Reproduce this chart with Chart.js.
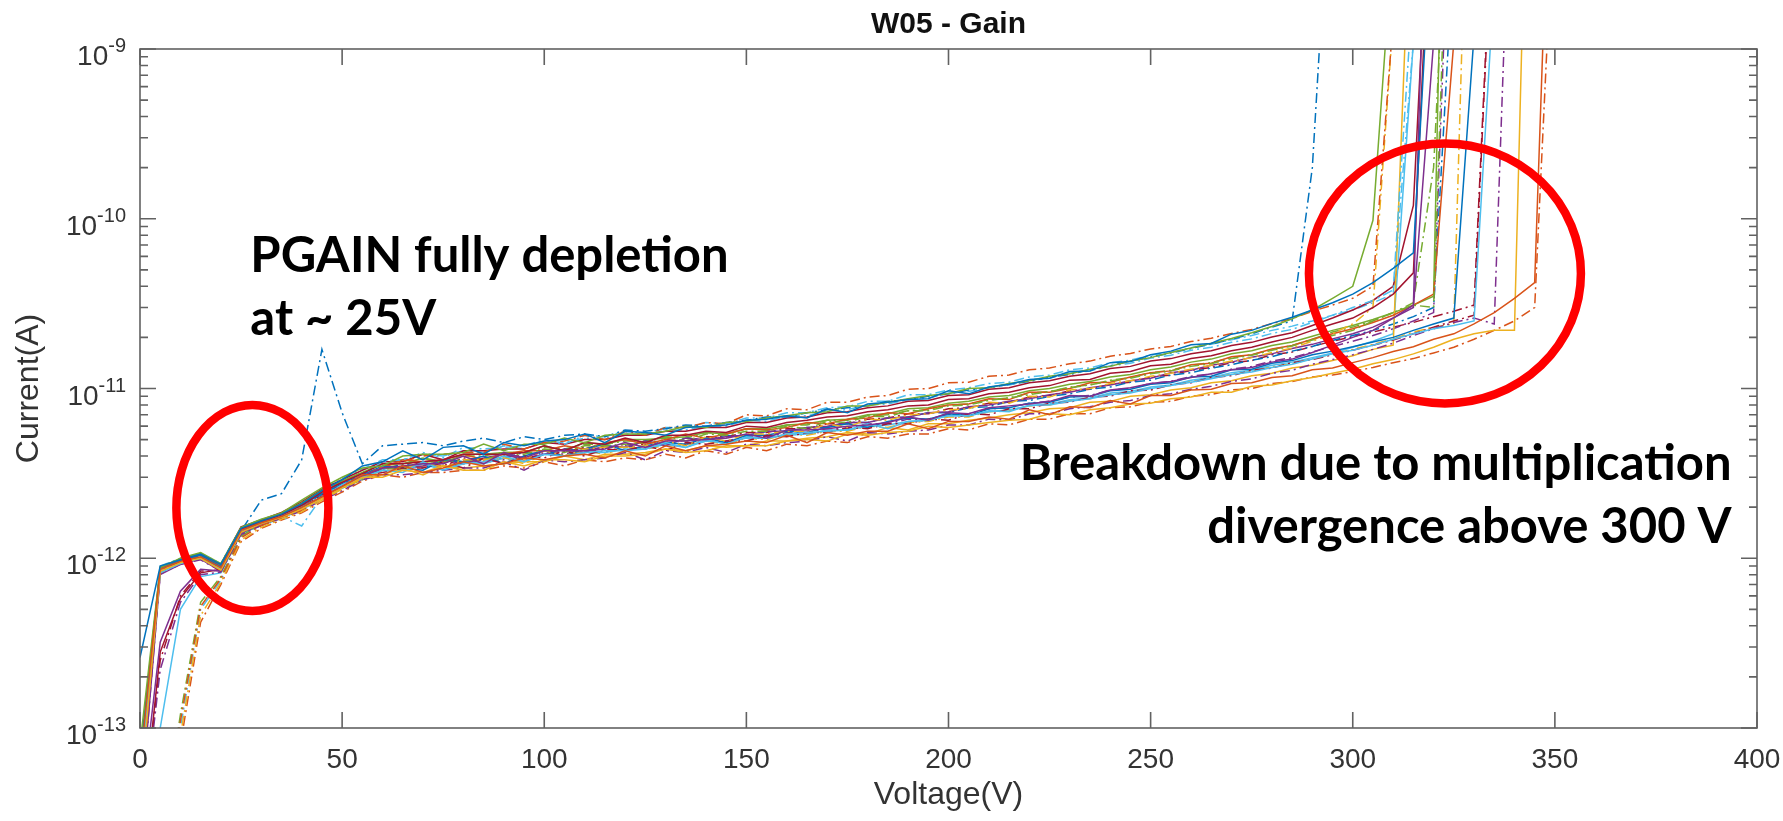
<!DOCTYPE html>
<html>
<head>
<meta charset="utf-8">
<title>W05 - Gain</title>
<script src="https://cdn.jsdelivr.net/npm/chart.js@4.4.1/dist/chart.umd.min.js"></script>
<style>
  html, body { margin: 0; padding: 0; background: #fff; }
  canvas { display: block; }
</style>
</head>
<body>
<canvas id="chart" width="1783" height="821" style="width:1783px;height:821px"></canvas>
<script>
// bias points (V) shared by every pad
const volts = [
  0, 5, 10, 15, 20, 25, 30, 35, 40, 45,
  50, 55, 60, 65, 70, 75, 80, 85, 90, 95,
  100, 105, 110, 115, 120, 125, 130, 135, 140, 145,
  150, 155, 160, 165, 170, 175, 180, 185, 190, 195,
  200, 205, 210, 215, 220, 225, 230, 235, 240, 245,
  250, 255, 260, 265, 270, 275, 280, 285, 290, 295,
  300, 305, 310, 315, 320, 325, 330, 335, 340, 345,
  350
];
const voltTicks = [0, 50, 100, 150, 200, 250, 300, 350, 400];
const currentDecades = [-13, -12, -11, -10, -9];

// leakage current of each pad, in pA
const pad01 = [
  0.26, 0.9, 0.98, 1.06, 0.92, 1.5, 1.66, 1.82, 2.1, 2.5,
  2.9, 3.5, 3.7, 4.3, 3.8, 4.5, 4.6, 4.1, 4.8, 4.6,
  4.9, 5.0, 5.4, 4.8, 5.6, 5.5, 5.3, 5.9, 6.0, 6.1,
  6.5, 6.6, 6.9, 6.7, 7.6, 7.2, 8.1, 8.3, 8.6, 8.7,
  9.7, 9.3, 10.2, 10.6, 11.3, 11.5, 12.6, 12.7, 14.2, 14.4,
  15.8, 16.6, 18.1, 18.4, 20.9, 22.0, 24.2, 26.3, 29, 32,
  36, 42, 51, 63, 9000
];
const pad02 = [
  0.06, 0.86, 0.96, 1.02, 0.88, 1.46, 1.62, 1.76, 2.0, 2.3,
  2.65, 3.1, 3.1, 3.5, 3.2, 3.4, 3.7, 3.5, 3.6, 3.9,
  3.8, 4.0, 4.1, 3.9, 4.3, 4.0, 4.6, 4.3, 4.6, 4.7,
  4.9, 4.8, 5.3, 4.8, 5.5, 5.3, 5.6, 5.6, 6.2, 5.8,
  6.4, 6.4, 6.8, 6.6, 7.5, 7.0, 7.8, 7.7, 8.5, 8.1,
  9.1, 9.1, 9.8, 9.9, 10.7, 10.8, 11.6, 11.9, 12.9, 13.2,
  14.2, 15.2, 16.5, 17.6, 19.5, 21, 24, 28, 34, 42,
  120000
];
const pad03 = [
  0.04, 0.84, 0.94, 1.0, 0.85, 1.42, 1.6, 1.74, 1.95, 2.25,
  2.6, 3.0, 3.0, 3.3, 3.2, 3.5, 3.3, 3.3, 3.7, 3.5,
  3.8, 3.8, 3.7, 4.0, 4.0, 4.1, 4.4, 4.2, 4.3, 4.6,
  4.6, 4.6, 4.9, 5.0, 4.9, 5.4, 5.3, 5.5, 5.6, 6.0,
  5.9, 6.1, 6.3, 6.5, 6.6, 7.1, 7.0, 7.5, 7.7, 8.1,
  8.2, 8.7, 8.9, 9.5, 9.5, 10.3, 10.5, 11.1, 11.6, 12.3,
  13.0, 14.0, 14.8, 16.0, 17.5, 19.5, 21, 22, 22, 1000000
];
const pad04 = [
  0.03, 0.32, 0.64, 0.86, 0.84, 1.42, 1.6, 1.76, 1.96, 2.3,
  2.65, 3.05, 3.4, 3.5, 3.6, 3.6, 4.0, 3.6, 4.2, 3.9,
  4.3, 4.3, 4.3, 4.4, 4.8, 4.5, 4.9, 4.9, 5.0, 5.1,
  5.4, 5.1, 5.7, 5.7, 5.8, 6.0, 6.1, 6.3, 6.8, 6.5,
  7.2, 7.1, 7.7, 7.9, 8.1, 8.4, 9.1, 9.0, 9.8, 10.1,
  10.7, 11.0, 11.6, 12.2, 12.9, 13.3, 14.3, 14.9, 16.3, 18,
  20, 22, 26, 31, 300000
];
const pad05 = [
  0.08, 0.88, 1.0, 1.08, 0.93, 1.52, 1.7, 1.85, 2.2, 2.6,
  3.0, 3.4, 3.5, 4.0, 4.1, 4.1, 4.2, 4.7, 4.3, 4.7,
  4.7, 5.1, 4.8, 5.3, 5.4, 5.4, 5.6, 6.0, 5.9, 6.3,
  6.4, 6.7, 6.9, 7.2, 7.3, 7.9, 7.9, 8.3, 8.7, 9.1,
  9.3, 10.0, 10.1, 10.7, 11.1, 11.8, 12.2, 13.0, 13.5, 14.5,
  15.2, 16.3, 17.3, 18.5, 19.7, 21.3, 23.2, 25.7, 29, 34,
  40, 98, 4700
];
const pad06 = [
  0.05, 0.82, 0.93, 1.0, 0.86, 1.44, 1.6, 1.76, 2.0, 2.3,
  2.7, 3.0, 3.3, 3.2, 3.7, 3.3, 3.6, 3.7, 4.0, 3.7,
  4.1, 4.0, 4.2, 4.3, 4.3, 4.4, 4.8, 4.5, 5.0, 4.7,
  5.2, 5.1, 5.4, 5.5, 5.6, 5.7, 6.2, 5.8, 6.4, 6.5,
  6.9, 6.9, 7.4, 7.3, 8.0, 8.0, 8.4, 8.7, 9.2, 9.4,
  10.0, 10.4, 10.9, 11.4, 12.1, 12.5, 13.3, 13.9, 14.9, 16.0,
  16.8, 18.0, 19.5, 21, 22.5, 23.5, 25, 2500
];
const pad07 = [
  0.02, 0.28, 0.58, 0.82, 0.86, 1.48, 1.66, 1.8, 2.05, 2.45,
  2.8, 3.15, 3.6, 3.6, 3.7, 3.8, 4.1, 4.1, 4.1, 4.2,
  4.6, 4.3, 4.8, 4.7, 5.1, 4.8, 5.3, 5.3, 5.6, 5.5,
  6.0, 5.9, 6.3, 6.5, 6.8, 6.9, 7.3, 7.5, 7.9, 8.0,
  8.6, 8.7, 9.3, 9.5, 10.1, 10.4, 11.2, 11.3, 12.3, 12.6,
  13.6, 13.9, 15.0, 15.6, 16.7, 17.5, 18.8, 20, 22, 24,
  26, 30, 36, 48, 20000
];
const pad08 = [
  0.05, 0.84, 0.96, 1.02, 0.88, 1.45, 2.2, 2.4, 3.8, 17,
  7.2, 3.6, 4.6, 4.7, 4.8, 4.6, 4.9, 5.1, 4.8, 5.2,
  5.0, 5.3, 5.4, 5.2, 5.7, 5.6, 5.8, 6.1, 6.0, 6.3,
  6.5, 6.8, 6.8, 7.2, 7.5, 7.7, 7.9, 8.4, 8.6, 9.0,
  9.3, 9.8, 10.1, 10.6, 11.0, 11.7, 12.1, 12.9, 13.6, 14.5,
  15.3, 16.2, 17.2, 18.3, 19.5, 21.0, 23, 25, 200, 20000
];
const pad09 = [
  0.01, 0.02, 0.11, 0.52, 0.76, 1.32, 1.56, 1.74, 1.92, 2.3,
  2.65, 3.0, 3.5, 3.7, 4.0, 4.1, 4.2, 4.2, 4.7, 4.4,
  4.8, 4.9, 5.3, 5.0, 5.6, 5.3, 5.9, 5.9, 6.3, 6.2,
  7.0, 6.9, 7.6, 7.5, 8.3, 8.3, 8.9, 9.1, 9.9, 10.0,
  10.8, 10.9, 11.8, 12.0, 12.9, 13.2, 14.0, 14.5, 15.5, 16.1,
  17.1, 17.7, 18.9, 19.8, 21.1, 22.3, 24.1, 25.8, 28.5, 31,
  34, 40, 1500
];
const pad10 = [
  0.01, 0.015, 0.09, 0.46, 0.72, 1.28, 1.52, 1.7, 1.88, 2.2,
  2.55, 2.95, 3.3, 3.3, 3.7, 3.4, 3.8, 3.8, 3.9, 3.8,
  4.3, 4.0, 4.4, 4.5, 4.5, 4.6, 4.9, 4.6, 5.2, 4.9,
  5.4, 5.4, 5.6, 5.6, 6.2, 5.9, 6.6, 6.5, 7.0, 7.1,
  7.5, 7.6, 8.3, 8.2, 9.0, 8.9, 9.8, 10.0, 10.7, 11.1,
  11.8, 12.3, 13.0, 13.7, 14.5, 15.2, 16.3, 17.3, 19, 21,
  24, 30, 1500
];
const pad11 = [
  0.02, 0.22, 0.55, 0.8, 0.83, 1.38, 1.56, 1.72, 1.9, 2.2,
  2.5, 2.9, 3.1, 3.1, 3.2, 3.3, 3.4, 3.4, 3.7, 3.3,
  3.8, 3.7, 3.8, 3.9, 4.2, 3.8, 4.3, 4.2, 4.5, 4.2,
  4.7, 4.6, 4.8, 4.9, 5.2, 4.9, 5.5, 5.4, 5.6, 5.7,
  6.1, 6.1, 6.6, 6.5, 7.1, 7.1, 7.6, 7.8, 8.3, 8.5,
  9.1, 9.3, 9.9, 10.3, 11.0, 11.4, 12.3, 12.8, 13.9, 14.8,
  15.8, 17.0, 18.5, 20.5, 22.5, 24.5, 26, 24, 60000
];
const pad12 = [
  0.01, 0.02, 0.12, 0.55, 0.78, 1.35, 1.6, 1.76, 1.95, 2.3,
  2.6, 2.9, 3.4, 3.4, 3.7, 3.7, 3.8, 3.8, 4.1, 4.1,
  4.4, 4.2, 4.6, 4.6, 4.7, 4.8, 5.2, 4.9, 5.4, 5.3,
  5.6, 5.6, 6.0, 5.8, 6.4, 6.3, 6.9, 6.8, 7.4, 7.4,
  7.9, 8.0, 8.5, 8.8, 9.2, 9.6, 10.1, 10.5, 11.1, 11.5,
  12.2, 12.7, 13.5, 14.0, 15.0, 15.7, 16.8, 17.8, 19.3, 20.5,
  22, 25, 28, 31, 30, 100000
];
const pad13 = [
  0.01, 0.02, 0.1, 0.5, 0.74, 1.34, 1.58, 1.76, 1.55, 2.3,
  2.7, 3.1, 3.7, 3.8, 4.2, 3.9, 4.5, 4.4, 4.5, 4.6,
  5.0, 4.7, 5.3, 5.2, 5.6, 5.4, 5.9, 5.9, 6.3, 6.2,
  6.7, 6.7, 7.2, 7.2, 7.7, 7.8, 8.4, 8.4, 9.2, 9.2,
  9.8, 10.1, 10.7, 10.9, 11.7, 12.0, 12.9, 13.2, 14.2, 14.7,
  15.7, 16.3, 17.4, 18.2, 19.4, 20.5, 22.0, 23.3, 25, 27,
  30, 33, 38, 2500
];
const pad14 = [
  0.02, 0.25, 0.6, 0.84, 0.85, 1.44, 1.62, 1.78, 2.0, 2.35,
  2.7, 3.05, 3.2, 3.4, 3.4, 3.7, 3.4, 3.9, 3.6, 4.0,
  3.9, 4.3, 4.0, 4.4, 4.3, 4.6, 4.3, 4.8, 4.7, 4.9,
  4.9, 5.3, 5.2, 5.5, 5.5, 5.9, 5.8, 6.2, 6.2, 6.6,
  6.5, 7.1, 7.0, 7.6, 7.6, 8.2, 8.3, 8.9, 9.0, 9.7,
  9.8, 10.5, 10.8, 11.6, 11.9, 12.8, 13.2, 14.2, 14.8, 15.8,
  16.8, 18.0, 19.3, 21, 23, 25, 27, 11000
];
const pad15 = [
  0.07, 0.86, 0.97, 1.04, 0.89, 1.47, 1.63, 1.79, 2.05, 2.4,
  2.75, 3.1, 3.5, 3.4, 3.3, 3.8, 3.7, 4.0, 3.6, 4.0,
  4.3, 4.0, 4.4, 4.7, 4.3, 4.6, 4.8, 4.7, 5.1, 4.8,
  5.3, 5.3, 5.6, 5.5, 5.9, 6.2, 5.9, 6.4, 6.7, 6.6,
  7.1, 6.9, 7.6, 7.7, 8.2, 8.3, 8.9, 9.0, 9.7, 9.9,
  10.6, 10.8, 11.7, 11.8, 12.9, 13.0, 14.1, 14.6, 15.8, 16.6,
  17.6, 18.8, 20, 22, 24, 26, 1200
];
const pad16 = [
  0.04, 0.87, 0.97, 1.05, 0.9, 1.49, 1.64, 1.8, 2.08, 2.45,
  2.8, 3.15, 3.4, 3.8, 3.7, 3.8, 4.1, 3.8, 4.1, 4.3,
  4.3, 4.6, 4.4, 4.8, 5.0, 4.7, 5.0, 5.4, 5.1, 5.4,
  5.8, 5.7, 5.9, 6.3, 6.2, 6.6, 6.7, 7.2, 7.1, 7.6,
  8.0, 8.1, 8.7, 8.6, 9.5, 9.5, 10.0, 10.8, 10.9, 11.7,
  12.4, 12.7, 13.8, 14.1, 15.4, 15.8, 17.1, 17.9, 19.5, 21,
  22.5, 24.5, 27, 31, 36, 1100
];
const pad17 = [
  0.05, 0.83, 0.95, 1.01, 0.87, 1.43, 1.58, 1.73, 1.97, 2.28,
  2.62, 2.98, 3.1, 3.4, 3.1, 3.5, 3.4, 3.5, 3.6, 3.7,
  3.7, 4.0, 3.8, 4.1, 4.1, 4.2, 4.4, 4.3, 4.6, 4.5,
  4.6, 4.9, 4.9, 5.1, 5.2, 5.5, 5.4, 5.9, 5.7, 6.2,
  6.2, 6.5, 6.7, 7.0, 7.2, 7.6, 7.7, 8.3, 8.4, 9.0,
  9.2, 9.8, 10.1, 10.8, 11.1, 11.9, 12.3, 13.2, 13.7, 14.6,
  15.6, 17, 18, 20000
];
const pad18 = [
  0.03, 0.8, 0.92, 0.99, 0.84, 1.41, 1.57, 1.74, 1.96, 2.3,
  2.66, 3.0, 3.4, 3.4, 3.5, 3.8, 3.6, 3.9, 4.1, 3.8,
  4.1, 4.4, 4.2, 4.6, 4.5, 4.9, 4.6, 5.1, 5.0, 5.2,
  5.3, 5.6, 5.6, 5.9, 6.0, 6.3, 6.3, 6.7, 6.8, 7.2,
  7.3, 7.8, 8.0, 8.4, 8.7, 9.2, 9.5, 10.1, 10.5, 11.1,
  11.5, 12.4, 12.8, 13.7, 14.3, 15.3, 16.0, 17.2, 18.2, 19.6,
  21, 23, 26, 30, 1100
];
const pad19 = [
  0.06, 0.89, 0.99, 1.07, 0.91, 1.51, 1.67, 1.83, 2.12, 2.52,
  2.85, 3.2, 3.6, 3.6, 3.9, 3.6, 4.1, 4.1, 4.2, 4.2,
  4.6, 4.3, 4.8, 4.7, 5.0, 5.0, 5.1, 5.2, 5.5, 5.4,
  5.8, 5.8, 6.1, 6.2, 6.5, 6.6, 7.0, 7.1, 7.6, 7.7,
  8.2, 8.4, 8.9, 9.1, 9.7, 10.0, 10.6, 11.0, 11.7, 12.1,
  12.9, 13.4, 14.3, 14.9, 16.0, 16.7, 17.9, 18.8, 20.3, 22,
  23.5, 25.5, 28, 31, 35, 10000000
];
const pad20 = [
  0.01, 0.1, 0.5, 0.78, 0.82, 1.4, 1.56, 1.72, 1.93, 2.25,
  2.58, 2.95, 3.3, 3.3, 3.6, 3.3, 3.7, 3.6, 3.9, 3.7,
  4.1, 4.0, 4.2, 4.2, 4.4, 4.4, 4.7, 4.5, 4.9, 4.8,
  5.1, 5.1, 5.3, 5.4, 5.7, 5.7, 6.0, 6.1, 6.4, 6.5,
  6.9, 6.9, 7.3, 7.5, 7.9, 8.1, 8.6, 8.8, 9.4, 9.6,
  10.2, 10.5, 11.2, 11.6, 12.4, 12.8, 13.7, 14.3, 15.2, 16.2,
  17.5, 19, 21, 1100
];
const pad21 = [
  0.04, 0.88, 0.98, 1.06, 0.92, 1.53, 1.68, 1.86, 2.15, 2.55,
  2.9, 3.3, 3.7, 3.7, 4.1, 3.8, 4.3, 4.3, 4.4, 4.4,
  4.8, 4.7, 5.0, 5.0, 5.3, 5.3, 5.6, 5.6, 5.9, 5.9,
  6.3, 6.3, 6.7, 6.8, 7.2, 7.3, 7.7, 7.9, 8.4, 8.5,
  9.1, 9.2, 9.9, 10.1, 10.8, 11.1, 11.8, 12.2, 13.1, 13.5,
  14.5, 15.0, 16.0, 16.7, 17.9, 18.7, 20.1, 21.3, 23.5, 26,
  29, 33, 40, 120, 30000
];
const pad22 = [
  0.05, 0.85, 0.95, 1.03, 0.87, 1.46, 1.61, 1.77, 2.02, 2.38,
  2.7, 3.05, 3.3, 3.6, 3.4, 3.8, 3.7, 3.8, 3.9, 4.2,
  4.1, 4.4, 4.3, 4.5, 4.5, 4.9, 4.7, 5.1, 5.0, 5.3,
  5.2, 5.6, 5.6, 5.9, 5.9, 6.3, 6.3, 6.7, 6.8, 7.2,
  7.2, 7.7, 7.8, 8.4, 8.5, 9.0, 9.3, 9.9, 10.2, 10.9,
  11.2, 12.0, 12.4, 13.2, 13.8, 14.7, 15.4, 16.6, 17.7, 19.2,
  20.5, 22, 24, 26.5, 30, 4000
];
const pad23 = [
  0.01, 0.015, 0.08, 0.42, 0.7, 1.25, 1.5, 1.68, 1.85, 2.15,
  2.45, 2.85, 3.1, 3.0, 3.2, 3.2, 3.3, 3.3, 3.5, 3.4,
  3.7, 3.5, 3.8, 3.7, 3.9, 3.8, 4.1, 3.9, 4.3, 4.1,
  4.5, 4.3, 4.7, 4.6, 4.9, 4.8, 5.2, 5.1, 5.4, 5.4,
  5.8, 5.7, 6.2, 6.1, 6.6, 6.6, 7.1, 7.1, 7.7, 7.8,
  8.3, 8.4, 9.0, 9.2, 9.8, 10.0, 10.7, 11.0, 11.7, 12.0,
  12.6, 13.3, 14.2, 15.0, 16.2, 17.5, 19.5, 22, 25, 30,
  10000
];
const pad24 = [
  0.04, 0.82, 0.93, 1.0, 0.86, 1.43, 1.59, 1.75, 1.97, 2.3,
  2.62, 2.97, 3.3, 3.3, 3.5, 3.5, 3.6, 3.6, 3.9, 3.6,
  4.1, 4.0, 4.3, 4.1, 4.5, 4.4, 4.6, 4.6, 4.9, 4.7,
  5.1, 5.0, 5.4, 5.3, 5.6, 5.6, 6.0, 5.9, 6.3, 6.4,
  6.8, 6.8, 7.3, 7.4, 7.9, 8.0, 8.5, 8.7, 9.3, 9.5,
  10.1, 10.4, 11.1, 11.5, 12.2, 12.6, 13.5, 14.0, 15.0, 16.0,
  17.0, 18.2, 19.6, 21.5, 23, 24, 300000
];
const pad25 = [
  0.03, 0.81, 0.92, 0.98, 0.84, 1.42, 1.58, 1.73, 1.94, 2.28,
  2.6, 2.92, 3.4, 3.3, 3.7, 3.4, 3.8, 3.7, 3.8, 3.8,
  4.2, 4.1, 4.4, 4.2, 4.6, 4.4, 4.8, 4.7, 4.9, 4.9,
  5.2, 5.2, 5.5, 5.5, 5.8, 5.8, 6.2, 6.2, 6.6, 6.6,
  7.0, 7.1, 7.6, 7.7, 8.2, 8.4, 8.9, 9.1, 9.8, 10.0,
  10.7, 11.0, 11.8, 12.2, 13.0, 13.5, 14.5, 15.2, 16.4, 17.7,
  19, 20.5, 22.5, 25, 28, 40000
];
const pad26 = [
  0.05, 0.87, 0.96, 1.04, 0.9, 1.48, 1.64, 1.81, 2.1, 2.48,
  2.82, 3.2, 3.6, 3.5, 3.9, 3.7, 4.0, 4.0, 4.2, 4.2,
  4.5, 4.4, 4.7, 4.7, 4.9, 4.9, 5.2, 5.1, 5.5, 5.4,
  5.8, 5.7, 6.1, 6.1, 6.5, 6.5, 6.9, 7.0, 7.4, 7.5,
  8.0, 8.1, 8.6, 8.8, 9.4, 9.6, 10.2, 10.5, 11.2, 11.6,
  12.4, 12.8, 13.7, 14.2, 15.2, 15.8, 17.0, 17.9, 19.5, 21.5,
  23, 25, 28, 32, 200, 50000
];
const pad27 = [
  0.06, 0.9, 1.0, 1.07, 0.93, 1.52, 1.69, 1.84, 2.15, 2.55,
  2.95, 3.35, 3.8, 3.8, 4.1, 4.0, 4.3, 4.2, 4.6, 4.4,
  4.9, 4.8, 5.1, 5.1, 5.4, 5.3, 5.7, 5.7, 6.0, 6.0,
  6.5, 6.4, 6.9, 6.9, 7.4, 7.5, 8.0, 8.1, 8.6, 8.8,
  9.4, 9.6, 10.2, 10.5, 11.2, 11.5, 12.3, 12.7, 13.6, 14.1,
  15.1, 15.7, 16.8, 17.5, 18.7, 19.6, 21.1, 22.3, 24.5, 27,
  29, 32, 36, 1100
];
const pad28 = [
  0.04, 0.84, 0.94, 1.01, 0.86, 1.45, 1.6, 1.76, 1.99, 2.33,
  2.68, 3.02, 3.4, 3.4, 3.7, 3.5, 3.9, 3.8, 4.0, 4.0,
  4.3, 4.2, 4.5, 4.4, 4.7, 4.7, 5.0, 4.9, 5.2, 5.2,
  5.5, 5.5, 5.8, 5.8, 6.2, 6.2, 6.6, 6.7, 7.1, 7.1,
  7.6, 7.7, 8.2, 8.3, 8.9, 9.1, 9.7, 9.9, 10.6, 10.9,
  11.7, 12.0, 12.8, 13.3, 14.2, 14.6, 15.8, 16.4, 17.7, 19.0,
  20.2, 21.5, 23, 24.5, 26.5, 28.5, 31, 12000
];

const pads = [
  pad01, pad02, pad03, pad04, pad05, pad06, pad07,
  pad08, pad09, pad10, pad11, pad12, pad13, pad14,
  pad15, pad16, pad17, pad18, pad19, pad20, pad21,
  pad22, pad23, pad24, pad25, pad26, pad27, pad28
];

// matlab default colour order, solid / dash-dot alternating every 7 curves
const palette = ['#0072BD', '#D95319', '#EDB120', '#7E2F8E', '#77AC30', '#4DBEEE', '#A2142F'];
const dashDot = [10, 4, 2, 4];
const FONT = '"Liberation Sans", Arial, Helvetica, sans-serif';
const AXIS = '#626262';
const TEXT = '#333333';

// red callouts drawn on top of the plot
const rings = [
  { v: 27.8, amp: 1.98e-12, rx: 76, ry: 103 },
  { v: 322.8, amp: 4.76e-11, rx: 136, ry: 130 }
];
const notes = [
  { text: 'PGAIN fully depletion', v: 27.3, amp: 4.86e-11, align: 'left' },
  { text: 'at ~ 25V', v: 27.3, amp: 2.07e-11, align: 'left' },
  { text: 'Breakdown due to multiplication', v: 393.7, amp: 2.89e-12, align: 'right' },
  { text: 'divergence above 300 V', v: 393.7, amp: 1.23e-12, align: 'right' }
];

const datasets = pads.map((vals, i) => ({
  data: vals.map((pA, k) => ({ x: volts[k], y: pA * 1e-12 })),
  borderColor: palette[i % 7],
  borderDash: Math.floor(i / 7) % 2 ? dashDot : [],
  borderWidth: 1.5,
  pointRadius: 0,
  fill: false,
  tension: 0
}));

const axesBox = {
  id: 'axesBox',
  afterDatasetsDraw(chart) {
    const { ctx, chartArea: a, scales: { x, y } } = chart;
    ctx.save();
    ctx.strokeStyle = AXIS;
    ctx.lineWidth = 1.6;
    ctx.strokeRect(a.left, a.top, a.right - a.left, a.bottom - a.top);

    ctx.beginPath();
    voltTicks.forEach(v => {
      const px = x.getPixelForValue(v);
      ctx.moveTo(px, a.bottom); ctx.lineTo(px, a.bottom - 16);
      ctx.moveTo(px, a.top); ctx.lineTo(px, a.top + 16);
    });
    const topDecade = currentDecades[currentDecades.length - 1];
    currentDecades.forEach(p => {
      for (let m = 1; m <= 9; m++) {
        if (p === topDecade && m > 1) break;
        const py = y.getPixelForValue(m * Math.pow(10, p));
        const len = m === 1 ? 16 : 8;
        ctx.moveTo(a.left, py); ctx.lineTo(a.left + len, py);
        ctx.moveTo(a.right, py); ctx.lineTo(a.right - len, py);
      }
    });
    ctx.stroke();

    // 10^n labels with raised exponent
    ctx.fillStyle = TEXT;
    ctx.textAlign = 'right';
    ctx.textBaseline = 'alphabetic';
    currentDecades.forEach(p => {
      const py = y.getPixelForValue(Math.pow(10, p));
      const exp = String(p);
      const xr = a.left - 14;
      ctx.font = '20px ' + FONT;
      const ew = ctx.measureText(exp).width;
      ctx.fillText(exp, xr, py + 3);
      ctx.font = '28px ' + FONT;
      ctx.fillText('10', xr - ew, py + 16);
    });
    ctx.restore();
  }
};

const callouts = {
  id: 'callouts',
  afterDraw(chart) {
    const { ctx, scales: { x, y } } = chart;
    ctx.save();
    ctx.strokeStyle = '#FF0000';
    ctx.lineWidth = 8.5;
    rings.forEach(r => {
      ctx.beginPath();
      ctx.ellipse(x.getPixelForValue(r.v), y.getPixelForValue(r.amp), r.rx, r.ry, 0, 0, Math.PI * 2);
      ctx.stroke();
    });
    ctx.fillStyle = '#000';
    ctx.font = 'bold 49px Lato, "Open Sans", sans-serif';
    ctx.textBaseline = 'alphabetic';
    notes.forEach(n => {
      ctx.textAlign = n.align;
      ctx.fillText(n.text, x.getPixelForValue(n.v), y.getPixelForValue(n.amp));
    });
    ctx.restore();
  }
};

new Chart(document.getElementById('chart'), {
  type: 'line',
  data: { datasets },
  options: {
    responsive: false,
    animation: false,
    events: [],
    layout: { padding: { left: 0, right: 26, top: 0, bottom: 0 } },
    plugins: {
      legend: { display: false },
      tooltip: { enabled: false },
      title: {
        display: true,
        text: 'W05 - Gain',
        fullSize: false,
        color: '#111',
        font: { family: FONT, size: 30, weight: 'bold' },
        padding: { top: 7, bottom: 6 }
      }
    },
    scales: {
      x: {
        type: 'linear',
        min: 0,
        max: 400,
        afterBuildTicks: s => { s.ticks = voltTicks.map(v => ({ value: v })); },
        afterFit: s => { s.height = 93; s.paddingLeft = 0; s.paddingRight = 0; },
        grid: { display: false, drawTicks: false },
        border: { display: false },
        ticks: { color: TEXT, font: { family: FONT, size: 28 }, padding: 15, maxRotation: 0 },
        title: { display: true, text: 'Voltage(V)', color: TEXT, font: { family: FONT, size: 32 }, padding: { top: 0, bottom: 7 } }
      },
      y: {
        type: 'logarithmic',
        min: 1e-13,
        max: 1e-9,
        afterFit: s => { s.width = 140; },
        grid: { display: false, drawTicks: false },
        border: { display: false },
        ticks: { display: false },
        title: { display: true, text: 'Current(A)', color: TEXT, font: { family: FONT, size: 32 }, padding: { top: 10, bottom: 0 } }
      }
    }
  },
  plugins: [axesBox, callouts]
});
</script>
</body>
</html>
